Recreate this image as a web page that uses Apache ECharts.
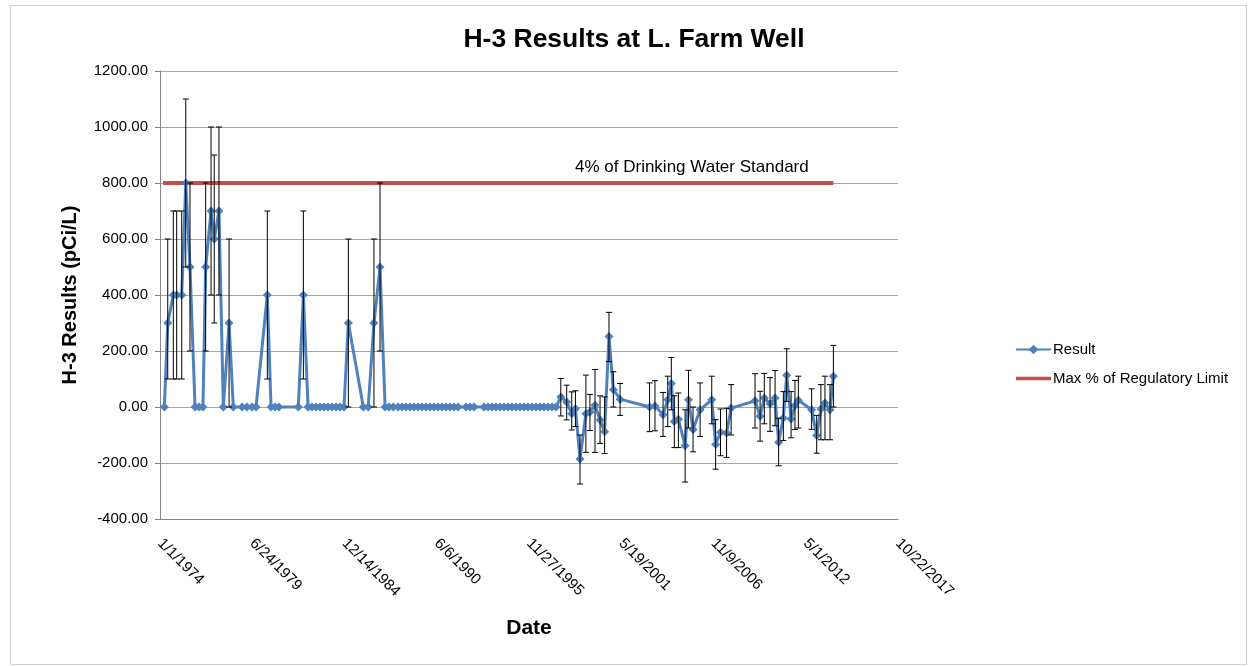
<!DOCTYPE html>
<html>
<head>
<meta charset="utf-8">
<script src="https://cdn.jsdelivr.net/npm/echarts@6/dist/echarts.min.js"></script>
<style>
html,body{margin:0;padding:0;background:#fff;}
#chart{width:1249px;height:666px;}
</style>
</head>
<body>
<div id="chart"></div>
<script>
// ---- DATA ----
// Sample dates as decimal years
var sampleYears = [
  1974.26, 1974.46, 1974.79, 1974.99, 1975.29, 1975.53, 1975.78, 1976.08, 1976.32, 1976.55,
  1976.71, 1977.03, 1977.22, 1977.50, 1977.76, 1978.10, 1978.35, 1978.87, 1979.16, 1979.46,
  1979.70, 1980.37, 1980.59, 1980.83, 1981.06, 1982.21, 1982.51, 1982.79, 1983.02, 1983.26,
  1983.50, 1983.74, 1983.97, 1984.21, 1984.45, 1984.68, 1984.92, 1985.18, 1986.07, 1986.36,
  1986.70, 1987.06, 1987.36, 1987.59, 1987.85,
  1988.13, 1988.37, 1988.60, 1988.84, 1989.08, 1989.32, 1989.55, 1989.79, 1990.03, 1990.26,
  1990.50, 1990.74, 1990.98, 1991.21, 1991.45, 1991.69, 1992.16, 1992.40, 1992.64, 1993.23,
  1993.47, 1993.71, 1993.94, 1994.18, 1994.42, 1994.66, 1994.89, 1995.13, 1995.37, 1995.61,
  1995.84, 1996.08, 1996.32, 1996.56, 1996.79, 1997.03, 1997.27, 1997.51,
  1997.79, 1998.14, 1998.44, 1998.66, 1998.93, 1999.28, 1999.52, 1999.82, 2000.12, 2000.39,
  2000.65, 2000.91, 2001.31, 2003.06, 2003.38, 2003.86, 2004.14, 2004.35, 2004.53, 2004.77,
  2005.17, 2005.37, 2005.64, 2006.06, 2006.75, 2006.98, 2007.27, 2007.63, 2007.90, 2009.32,
  2009.62, 2009.87, 2010.21, 2010.51, 2010.72, 2011.00, 2011.20, 2011.46, 2011.69, 2011.89,
  2012.68, 2012.98, 2013.23, 2013.47, 2013.77, 2013.97
];
var results = [
  0, 300, 400, 400, 400, 800, 500, 0, 0, 0,
  500, 700, 600, 700, 0, 300, 0, 0, 0, 0,
  0, 400, 0, 0, 0, 0, 400, 0, 0, 0,
  0, 0, 0, 0, 0, 0, 0, 300, 0, 0,
  300, 500, 0, 0, 0,
  0, 0, 0, 0, 0, 0, 0, 0, 0, 0,
  0, 0, 0, 0, 0, 0, 0, 0, 0, 0,
  0, 0, 0, 0, 0, 0, 0, 0, 0, 0,
  0, 0, 0, 0, 0, 0, 0, 0,
  36, 18, -24, -6, -186, -24, -18, 6, -46, -88,
  252, 62, 28, 0, 4, -28, 26, 84, -52, -44,
  -138, 26, -80, -10, 26, -134, -90, -93, -4, 22,
  -33, 32, 12, 32, -126, -39, 113, -43, 5, 24,
  -10, -102, -7, 14, -10, 110
];
// Error bar lower / upper ends (null = no bar drawn)
var errLow = [
  null, 100, 100, 100, 100, 500, 200, null, null, null,
  200, 400, 300, 400, null, 0, null, null, null, null,
  null, 100, null, null, null, null, 100, null, null, null,
  null, null, null, null, null, null, null, 0, null, null,
  0, 200, null, null, null,
  null, null, null, null, null, null, null, null, null, null,
  null, null, null, null, null, null, null, null, null, null,
  null, null, null, null, null, null, null, null, null, null,
  null, null, null, null, null, null, null, null,
  -32, -46, -82, -70, -275, -162, -84, -162, -130, -166,
  162, 0, -30, -88, -85, -105, -70, -10, -145, -145,
  -268, -75, -160, -105, -60, -222, -174, -180, -100, -75,
  -122, -60, -87, -67, -210, -120, 20, -110, -80, -75,
  -80, -165, -117, -117, -117, 0
];
var errHigh = [
  null, 600, 700, 700, 700, 1100, 800, null, null, null,
  800, 1000, 900, 1000, null, 600, null, null, null, null,
  null, 700, null, null, null, null, 700, null, null, null,
  null, null, null, null, null, null, null, 600, null, null,
  600, 800, null, null, null,
  null, null, null, null, null, null, null, null, null, null,
  null, null, null, null, null, null, null, null, null, null,
  null, null, null, null, null, null, null, null, null, null,
  null, null, null, null, null, null, null, null,
  102, 78, 54, 58, -100, 114, 45, 134, 40, 36,
  338, 126, 84, 86, 94, 52, 110, 177, 40, 50,
  -10, 131, 0, 86, 110, -45, -7, -5, 80, 119,
  56, 120, 105, 130, -40, 55, 208, 55, 95, 110,
  65, -30, 80, 110, 80, 220
];
var regulatoryLimit = 800;
var xTickLabels = ['1/1/1974', '6/24/1979', '12/14/1984', '6/6/1990', '11/27/1995',
                   '5/19/2001', '11/9/2006', '5/1/2012', '10/22/2017'];

// ---- build series data ----
function toDays(yr) { return (yr - 1974) * 365.25; } // days since 1/1/1974
var resultData = sampleYears.map(function (y, i) { return [toDays(y), results[i]]; });
var errData = [];
sampleYears.forEach(function (y, i) {
  if (errLow[i] !== null && errHigh[i] !== null) errData.push([toDays(y), errLow[i], errHigh[i]]);
});
var limitData = [
  [toDays(sampleYears[0]) - 30, regulatoryLimit],
  [toDays(sampleYears[sampleYears.length - 1]), regulatoryLimit]
];

var FONT = 'Liberation Sans';
var chart = echarts.init(document.getElementById('chart'), null, {renderer: 'canvas'});
chart.setOption({
  animation: false,
  backgroundColor: '#ffffff',
  textStyle: {fontFamily: FONT},
  title: {
    text: 'H-3 Results at L. Farm Well',
    left: 629, top: 21, textAlign: 'center',
    textStyle: {fontFamily: FONT, fontSize: 26.5, fontWeight: 'bold', color: '#000'}
  },
  legend: {
    orient: 'vertical', left: 1010, top: 337, itemGap: 14,
    itemWidth: 35, itemHeight: 12, symbolKeepAspect: true,
    data: [
      {name: 'Result'},
      {name: 'Max % of Regulatory Limit', icon: 'path://M0,0L35,0L35,3.5L0,3.5Z'}
    ],
    textStyle: {fontFamily: FONT, fontSize: 15, color: '#000', padding: [0, 0, 0, -3]}
  },
  grid: {left: 160, right: 351, top: 71, bottom: 147, containLabel: false},
  xAxis: {
    type: 'value', min: 0, max: 16000, interval: 2000,
    name: 'Date', nameLocation: 'middle', nameGap: 99,
    nameTextStyle: {fontFamily: FONT, fontSize: 21, fontWeight: 'bold', color: '#000'},
    axisLine: {show: true, onZero: false, lineStyle: {color: '#868686', width: 1}},
    axisTick: {show: false},
    splitLine: {show: false},
    axisLabel: {
      rotate: -45, margin: 22, color: '#000', fontFamily: FONT, fontSize: 15,
      formatter: function (v) { return xTickLabels[Math.round(v / 2000)]; }
    }
  },
  yAxis: {
    type: 'value', min: -400, max: 1200, interval: 200,
    name: 'H-3 Results (pCi/L)', nameLocation: 'middle', nameGap: 80, nameRotate: 90,
    nameTextStyle: {fontFamily: FONT, fontSize: 20, fontWeight: 'bold', color: '#000'},
    axisLine: {show: true, lineStyle: {color: '#868686', width: 1}},
    axisTick: {show: true, length: 5, lineStyle: {color: '#868686'}},
    splitLine: {show: true, lineStyle: {color: '#a6a6a6', width: 1}},
    axisLabel: {
      color: '#000', fontFamily: FONT, fontSize: 15, margin: 12,
      formatter: function (v) { return v.toFixed(2); }
    }
  },
  graphic: [
    {type: 'rect', left: 8, top: 3, shape: {width: 1236, height: 659},
     style: {fill: 'none', stroke: '#d0d0d0', lineWidth: 1}, z: -1},
    {type: 'text', left: 575, top: 159,
     style: {text: '4% of Drinking Water Standard', fill: '#000', font: '17px "Liberation Sans"'}}
  ],
  series: [
    {
      name: 'Max % of Regulatory Limit', type: 'line', data: limitData,
      symbol: 'none', lineStyle: {color: '#C0504D', width: 4},
      itemStyle: {color: '#C0504D'}, z: 2
    },
    {
      name: 'Result', type: 'line', data: resultData,
      symbol: 'diamond', symbolSize: 9, showAllSymbol: true,
      lineStyle: {color: '#4F81BD', width: 3},
      itemStyle: {color: '#4F81BD'}, z: 3
    },
    {
      name: 'errors', type: 'custom', data: errData, z: 4,
      renderItem: function (params, api) {
        var x = api.value(0);
        var lo = api.coord([x, api.value(1)]);
        var hi = api.coord([x, api.value(2)]);
        var cap = 3;
        var st = {stroke: '#000', lineWidth: 1};
        return {
          type: 'group',
          children: [
            {type: 'line', shape: {x1: lo[0], y1: lo[1], x2: hi[0], y2: hi[1]}, style: st},
            {type: 'line', shape: {x1: hi[0] - cap, y1: hi[1], x2: hi[0] + cap, y2: hi[1]}, style: st},
            {type: 'line', shape: {x1: lo[0] - cap, y1: lo[1], x2: lo[0] + cap, y2: lo[1]}, style: st}
          ]
        };
      },
      encode: {x: 0, y: [1, 2]}
    }
  ]
});
</script>
</body>
</html>
